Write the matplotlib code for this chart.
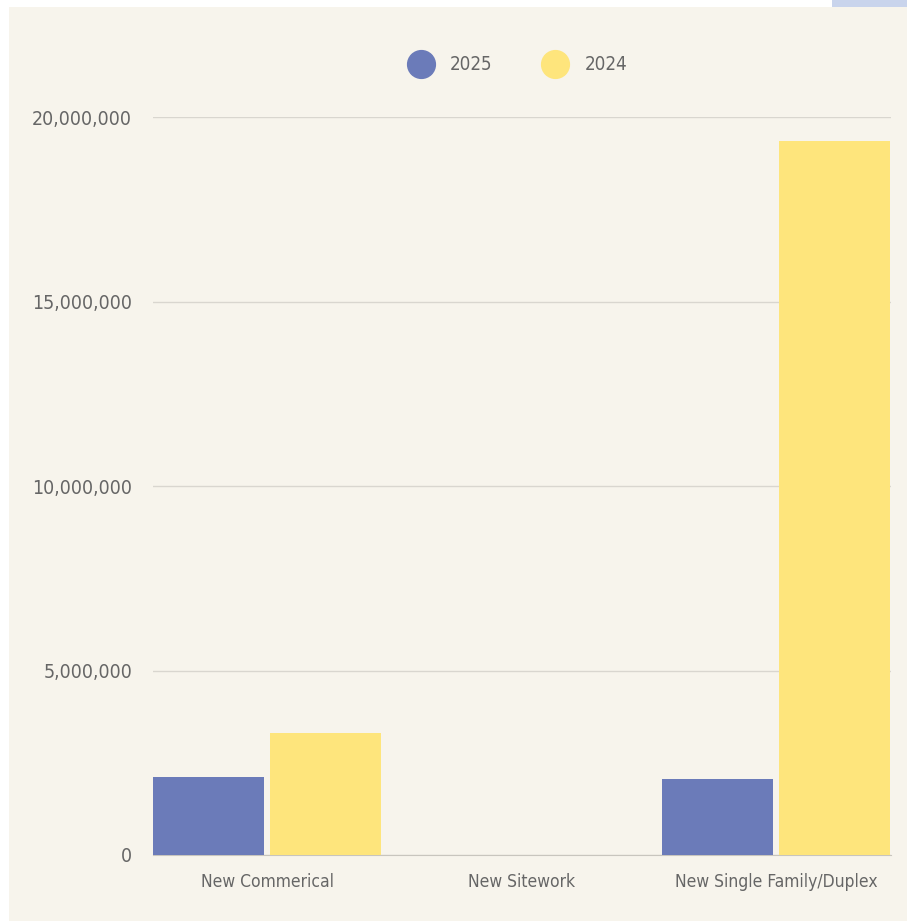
import numpy as np
import matplotlib
matplotlib.use("Agg")
import matplotlib.pyplot as plt
from matplotlib.patches import Rectangle
from matplotlib.lines import Line2D
from matplotlib.ticker import FuncFormatter

# data
categories = ["New Commerical", "New Sitework", "New Single Family/Duplex"]
values_2025 = [2110000, 0, 2060000]
values_2024 = [3310000, 0, 19350000]
series_names = ["2025", "2024"]

blue = "#6b7bb9"
yellow = "#fee57c"
cream = "#f7f4ec"
text_col = "#666666"

plt.rcParams["font.family"] = ["Liberation Sans Narrow", "DejaVu Sans"]
plt.rcParams["font.stretch"] = "condensed"

W, H = 907, 923
fig = plt.figure(figsize=(W / 100, H / 100), dpi=100)
fig.patch.set_facecolor("white")

# cream panel and the little blue strip top right
fig.patches.append(Rectangle((9 / W, 2 / H), 1, 1 - 9 / H, transform=fig.transFigure,
                             facecolor=cream, edgecolor="none", zorder=-5))
fig.patches.append(Rectangle((832 / W, 1 - 7 / H), 75 / W, 7 / H, transform=fig.transFigure,
                             facecolor="#c9d4ec", edgecolor="none", zorder=-5))

ax = fig.add_axes([153 / W, (H - 855) / H, 738 / W, 738 / H])
ax.set_facecolor("none")

x = np.arange(len(categories))
bw = 0.436
off = 0.23
ax.bar(x - off, values_2025, width=bw, color=blue, zorder=3)
ax.bar(x + off, values_2024, width=bw, color=yellow, zorder=3)

ax.set_xlim(-0.448, 2.452)
ax.set_ylim(0, 20000000)
ax.set_yticks([0, 5000000, 10000000, 15000000, 20000000])
ax.yaxis.set_major_formatter(FuncFormatter(lambda v, p: f"{int(v):,}"))
ax.set_xticks(x)
ax.set_xticklabels(categories)

ax.grid(axis="y", color="#d9d6cf", linewidth=1, zorder=0)
ax.set_axisbelow(True)
for s in ["top", "right", "left"]:
    ax.spines[s].set_visible(False)
ax.spines["bottom"].set_color("#c8c5be")
ax.tick_params(axis="both", length=0, colors=text_col)
ax.tick_params(axis="y", pad=15, labelsize=14)
ax.tick_params(axis="x", pad=13, labelsize=12.5)

handles = [Line2D([], [], marker="o", linestyle="none", markersize=20, color=blue),
           Line2D([], [], marker="o", linestyle="none", markersize=20, color=yellow)]
leg = fig.legend(handles, series_names, loc="center", bbox_to_anchor=(518 / W, 1 - 65 / H),
                 ncol=2, frameon=False, fontsize=13.5, handletextpad=0.9, columnspacing=2.7,
                 handlelength=1.3)
for t in leg.get_texts():
    t.set_color(text_col)

fig.savefig("out.png", dpi=100, facecolor=fig.get_facecolor())
